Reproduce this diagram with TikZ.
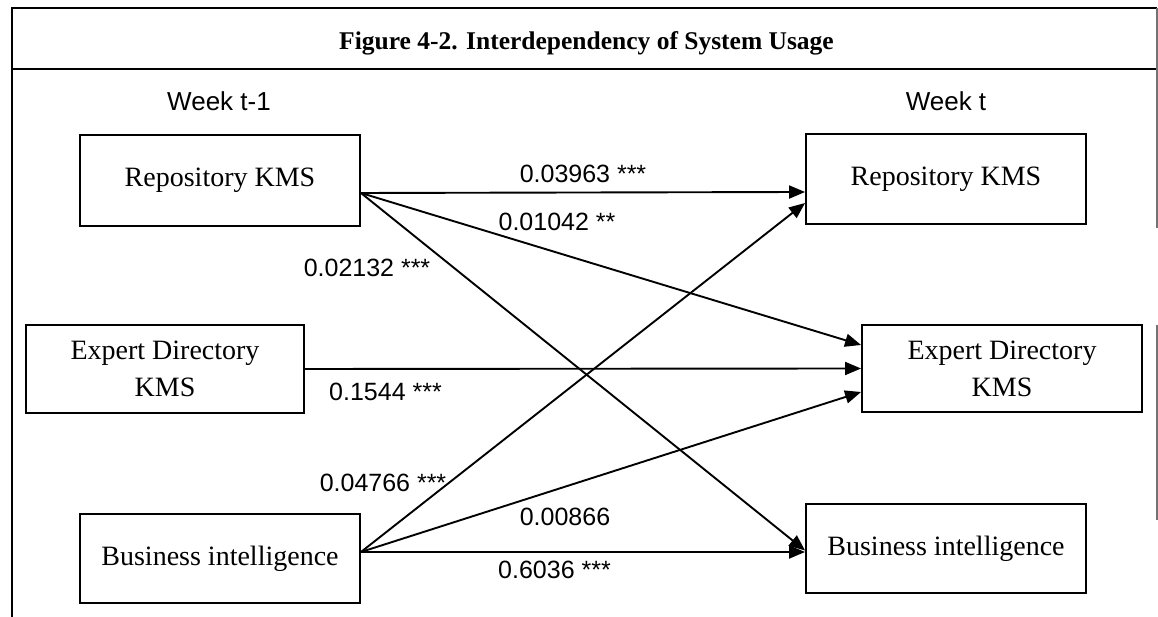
\documentclass[tikz,border=0pt]{standalone}
\usepackage{fontspec}
\setmainfont{Liberation Serif}
\newfontfamily\arialf{Liberation Sans}
\usetikzlibrary{arrows.meta}
\begin{document}
\begin{tikzpicture}[x=1pt,y=1pt,
  box/.style={draw,line width=1.9pt,inner sep=0pt,align=center,
    font=\fontsize{28}{37}\selectfont},
  link/.style={line width=1.9pt,-{Triangle[length=16pt,width=13pt]}},
  lab/.style={font=\arialf\fontsize{25}{30}\selectfont,inner sep=0pt},
  week/.style={font=\arialf\fontsize{26}{30}\selectfont,inner sep=0pt},
  frame/.style={line width=1.5pt},
  frameside/.style={line width=1.2pt,draw=black!55}]
\useasboundingbox (0,0) rectangle (1158,617);
% frame
\draw[frame] (12,0) -- (12,609) -- (1157,609);
\draw[frame] (12,548) -- (1157,548);
\draw[frameside] (1157,609) -- (1157,389);
\draw[frameside] (1157,292) -- (1157,97);
\node[font=\bfseries\fontsize{25.5}{30}\selectfont,inner sep=0pt,anchor=base] (title) at (586.5,567)
  {Figure 4-2. Interdependency of System Usage};
% week labels
\node[week] (wl) at (219,516) {Week t-1};
\node[week] (wr) at (946,516) {Week t};
% boxes
\node[box,minimum width=280pt,minimum height=91pt] (L1) at (220,436.5) {Repository KMS};
\node[box,minimum width=278pt,minimum height=88pt] (L2) at (165,248) {Expert Directory\\KMS};
\node[box,minimum width=280pt,minimum height=89pt] (L3) at (220,58.5) {Business intelligence};
\node[box,minimum width=280pt,minimum height=90pt] (R1) at (946,438) {Repository KMS};
\node[box,minimum width=280pt,minimum height=87pt] (R2) at (1002,248.5) {Expert Directory\\KMS};
\node[box,minimum width=280pt,minimum height=89pt] (R3) at (946,68.5) {Business intelligence};
% connectors
\draw[link] ([yshift=-12.5pt]L1.east) -- ([yshift=-13pt]R1.west);
\draw[link] ([yshift=-12.5pt]L1.east) -- ([yshift=23.5pt]R2.west);
\draw[link] ([yshift=-12.5pt]L1.east) -- ([yshift=-2pt]R3.west);
\draw[link] (L2.east) -- (R2.west);
\draw[link] ([yshift=6.5pt]L3.east) -- ([yshift=-24pt]R1.west);
\draw[link] ([yshift=6.5pt]L3.east) -- ([yshift=-23.5pt]R2.west);
\draw[link] ([yshift=6.5pt]L3.east) -- ([yshift=-3.5pt]R3.west);
% labels
\node[lab] (c1) at (583,443) {0.03963 ***};
\node[lab] (c2) at (557,395.5) {0.01042 **};
\node[lab] (c3) at (367,349) {0.02132 ***};
\node[lab] (c4) at (385.5,225) {0.1544 ***};
\node[lab] (c5) at (383,134) {0.04766 ***};
\node[lab] (c6) at (565,100) {0.00866};
\node[lab] (c7) at (554.5,47) {0.6036 ***};
\end{tikzpicture}
\end{document}
